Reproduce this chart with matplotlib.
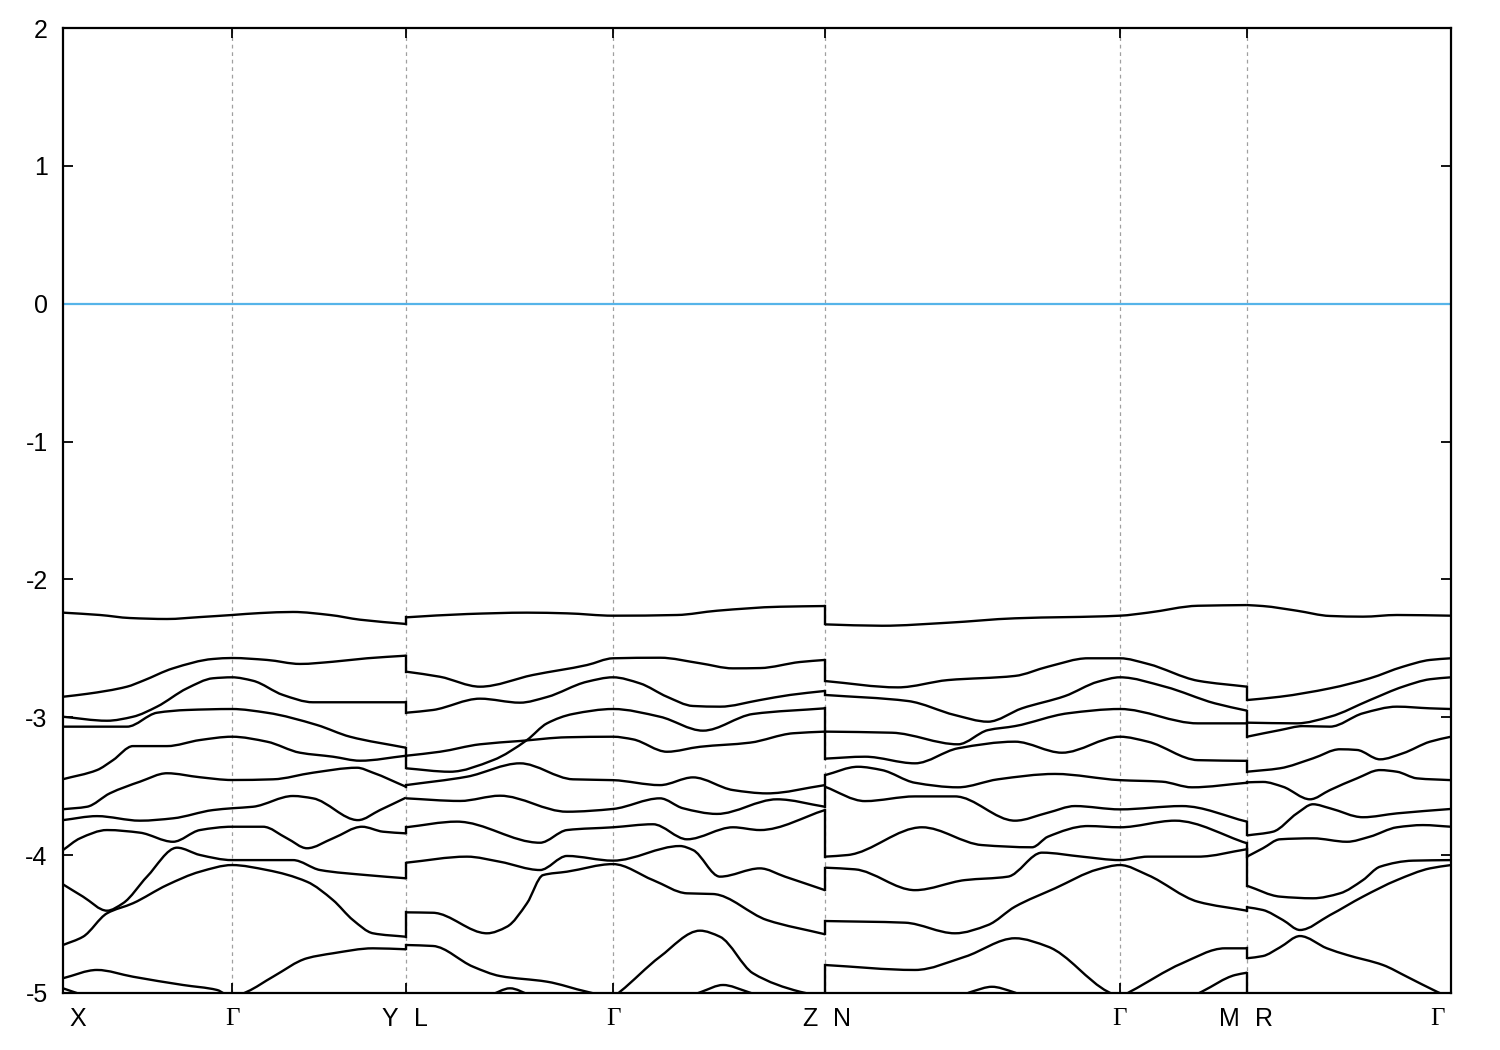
import numpy as np
import matplotlib
matplotlib.use("Agg")
import matplotlib.pyplot as plt
from matplotlib.transforms import offset_copy
from matplotlib.path import Path
from matplotlib.patches import PathPatch

# ---------------- data ----------------
# high-symmetry points along the k-path (path distance, arbitrary units)
kpoints = [0.0, 1.69, 3.43, 5.50, 7.62, 10.57, 11.84, 13.88]
klabels = ["X", "Γ", "Y|L", "Γ", "Z|N", "Γ", "M|R", "Γ"]
fermi_level = 0.0
yticks = [-5, -4, -3, -2, -1, 0, 1, 2]

# segment X -> Γ -> Y : bands as (k, E[eV])
seg1_bands = [
    ([0, 0.37, 0.67, 1.04, 1.37, 1.69, 1.97, 2.30, 2.67, 2.97, 3.43],
     [-2.241, -2.258, -2.280, -2.287, -2.273, -2.258, -2.244, -2.236, -2.258, -2.292, -2.323]),
    ([0, 0.24, 0.64, 0.80, 1.10, 1.50, 1.69, 2.04, 2.37, 2.70, 3.04, 3.43],
     [-2.851, -2.830, -2.778, -2.735, -2.645, -2.577, -2.570, -2.584, -2.613, -2.597, -2.572, -2.553]),
    ([0, 0.44, 0.70, 0.94, 1.24, 1.50, 1.69, 1.90, 2.20, 2.50, 3.43],
     [-2.996, -3.025, -2.996, -2.923, -2.790, -2.717, -2.710, -2.735, -2.838, -2.891, -2.891]),
    ([0, 0.64, 0.94, 1.24, 1.69, 2.04, 2.54, 2.87, 3.43],
     [-3.068, -3.068, -2.967, -2.947, -2.940, -2.967, -3.056, -3.141, -3.221]),
    ([0, 0.34, 0.50, 0.70, 1.04, 1.37, 1.69, 2.04, 2.37, 2.70, 2.97, 3.43],
     [-3.449, -3.383, -3.311, -3.209, -3.209, -3.165, -3.141, -3.177, -3.257, -3.286, -3.315, -3.279]),
    ([0, 0.24, 0.47, 0.77, 1.04, 1.37, 1.69, 2.10, 2.50, 2.94, 3.10, 3.43],
     [-3.667, -3.649, -3.551, -3.467, -3.406, -3.435, -3.455, -3.450, -3.402, -3.366, -3.402, -3.504]),
    ([0, 0.34, 0.77, 1.10, 1.50, 1.69, 1.90, 2.30, 2.50, 2.95, 3.17, 3.43],
     [-3.746, -3.717, -3.750, -3.733, -3.673, -3.660, -3.649, -3.571, -3.588, -3.746, -3.673, -3.583]),
    ([0, 0.17, 0.44, 0.77, 1.10, 1.37, 1.69, 2.00, 2.24, 2.44, 2.70, 2.99, 3.20, 3.43],
     [-3.963, -3.878, -3.818, -3.837, -3.903, -3.818, -3.794, -3.794, -3.878, -3.950, -3.878, -3.794, -3.830, -3.842]),
    ([0, 0.20, 0.44, 0.60, 0.84, 1.14, 1.37, 1.69, 2.30, 2.57, 3.04, 3.43],
     [-4.212, -4.301, -4.403, -4.349, -4.156, -3.946, -3.999, -4.036, -4.036, -4.108, -4.145, -4.168]),
    ([0, 0.20, 0.44, 0.70, 1.04, 1.37, 1.69, 2.04, 2.44, 2.70, 2.90, 3.10, 3.43],
     [-4.652, -4.592, -4.422, -4.349, -4.217, -4.120, -4.072, -4.108, -4.193, -4.326, -4.471, -4.567, -4.592]),
    ([0, 0.34, 0.70, 1.20, 1.54, 1.69, 1.84, 2.10, 2.44, 2.70, 3.10, 3.43],
     [-4.893, -4.833, -4.882, -4.942, -4.978, -5.030, -4.991, -4.882, -4.748, -4.712, -4.676, -4.683]),
    ([0, 0.20, 0.60, 1.69, 3.43],
     [-4.966, -5.015, -5.10, -5.25, -5.20]),
]

# segment L -> Γ -> Z
seg2_bands = [
    ([3.43, 4.04, 4.64, 5.04, 5.50, 6.14, 6.54, 7.17, 7.62],
     [-2.275, -2.251, -2.241, -2.246, -2.263, -2.258, -2.227, -2.198, -2.193]),
    ([3.43, 3.77, 4.17, 4.70, 5.24, 5.50, 5.97, 6.37, 6.70, 6.97, 7.37, 7.62],
     [-2.669, -2.706, -2.778, -2.693, -2.621, -2.572, -2.568, -2.608, -2.645, -2.643, -2.599, -2.584]),
    ([3.43, 3.70, 4.17, 4.57, 4.84, 5.24, 5.50, 5.77, 6.04, 6.30, 6.57, 6.97, 7.27, 7.62],
     [-2.967, -2.947, -2.865, -2.894, -2.853, -2.742, -2.710, -2.754, -2.851, -2.918, -2.923, -2.875, -2.838, -2.809]),
    ([3.43, 3.77, 4.17, 4.57, 5.04, 5.50, 5.70, 6.04, 6.37, 6.87, 7.30, 7.62],
     [-3.279, -3.250, -3.196, -3.172, -3.145, -3.141, -3.160, -3.250, -3.214, -3.184, -3.116, -3.104]),
    ([3.43, 3.87, 4.30, 4.64, 4.84, 5.10, 5.50, 5.97, 6.40, 6.90, 7.62],
     [-3.370, -3.395, -3.311, -3.165, -3.044, -2.976, -2.940, -2.996, -3.097, -2.976, -2.935]),
    ([3.43, 4.04, 4.57, 5.10, 5.50, 5.97, 6.30, 6.70, 7.04, 7.62],
     [-3.492, -3.431, -3.334, -3.450, -3.456, -3.492, -3.436, -3.528, -3.552, -3.492]),
    ([3.43, 3.97, 4.37, 5.04, 5.50, 5.97, 6.20, 6.54, 7.14, 7.62],
     [-3.588, -3.607, -3.569, -3.685, -3.665, -3.588, -3.660, -3.701, -3.595, -3.649]),
    ([3.43, 3.94, 4.77, 5.04, 5.50, 5.90, 6.24, 6.70, 6.97, 7.62],
     [-3.798, -3.757, -3.910, -3.818, -3.798, -3.776, -3.885, -3.798, -3.818, -3.673]),
    ([3.43, 4.04, 4.37, 4.77, 5.04, 5.50, 6.17, 6.30, 6.57, 6.97, 7.22, 7.62],
     [-4.055, -4.011, -4.048, -4.108, -4.006, -4.040, -3.934, -3.963, -4.156, -4.096, -4.156, -4.254]),
    ([3.43, 3.70, 4.24, 4.44, 4.64, 4.80, 5.04, 5.50, 5.90, 6.24, 6.50, 7.04, 7.62],
     [-4.415, -4.418, -4.567, -4.519, -4.349, -4.145, -4.120, -4.065, -4.181, -4.277, -4.282, -4.471, -4.574]),
    ([3.43, 3.70, 4.10, 4.37, 4.84, 5.24, 5.50, 5.57, 5.97, 6.37, 6.57, 6.90, 7.37, 7.62],
     [-4.652, -4.659, -4.809, -4.877, -4.918, -4.991, -5.029, -4.991, -4.737, -4.548, -4.592, -4.857, -4.991, -5.029]),
    ([3.43, 4.27, 4.47, 4.67, 5.50, 6.17, 6.39, 6.60, 6.84, 7.07, 7.62],
     [-5.12, -5.015, -4.966, -5.015, -5.20, -5.05, -4.99, -4.942, -4.99, -5.05, -5.12]),
]

# segment N -> Γ -> M
seg3_bands = [
    ([7.62, 8.19, 8.85, 9.52, 10.57, 10.85, 11.35, 11.84],
     [-2.326, -2.336, -2.314, -2.282, -2.263, -2.241, -2.191, -2.186]),
    ([7.62, 8.35, 8.85, 9.52, 9.85, 10.25, 10.57, 10.85, 11.35, 11.84],
     [-2.737, -2.783, -2.730, -2.700, -2.633, -2.572, -2.572, -2.613, -2.735, -2.778]),
    ([7.62, 8.45, 8.92, 9.25, 9.59, 10.02, 10.35, 10.57, 11.02, 11.52, 11.84],
     [-2.838, -2.882, -2.984, -3.032, -2.935, -2.846, -2.742, -2.710, -2.778, -2.899, -2.952]),
    ([7.62, 8.29, 8.95, 9.25, 9.52, 10.05, 10.57, 11.35, 11.84],
     [-3.104, -3.112, -3.196, -3.093, -3.064, -2.971, -2.940, -3.044, -3.044]),
    ([7.62, 8.02, 8.52, 8.95, 9.52, 9.99, 10.57, 10.85, 11.35, 11.84],
     [-3.300, -3.286, -3.334, -3.225, -3.177, -3.257, -3.141, -3.177, -3.311, -3.316]),
    ([7.62, 7.95, 8.19, 8.52, 8.95, 9.35, 9.92, 10.57, 10.99, 11.29, 11.84],
     [-3.420, -3.359, -3.383, -3.475, -3.508, -3.450, -3.411, -3.456, -3.467, -3.508, -3.475]),
    ([7.62, 8.02, 8.52, 8.92, 9.52, 9.85, 10.12, 10.57, 11.19, 11.84],
     [-3.504, -3.608, -3.574, -3.574, -3.750, -3.692, -3.644, -3.668, -3.644, -3.757]),
    ([7.62, 7.85, 8.59, 9.19, 9.69, 9.85, 10.25, 10.57, 11.12, 11.84],
     [-4.011, -3.999, -3.798, -3.927, -3.943, -3.866, -3.789, -3.798, -3.750, -3.914]),
    ([7.62, 7.92, 8.52, 9.02, 9.45, 9.79, 10.19, 10.57, 10.85, 11.35, 11.84],
     [-4.091, -4.103, -4.254, -4.181, -4.156, -3.982, -4.011, -4.036, -4.011, -4.011, -3.957]),
    ([7.62, 8.42, 8.92, 9.25, 9.52, 9.92, 10.35, 10.57, 10.85, 11.35, 11.84],
     [-4.478, -4.490, -4.567, -4.507, -4.374, -4.241, -4.103, -4.072, -4.145, -4.338, -4.403]),
    ([7.62, 8.52, 9.02, 9.52, 9.85, 10.45, 10.57, 10.67, 11.19, 11.62, 11.84],
     [-4.797, -4.833, -4.737, -4.603, -4.664, -4.991, -5.027, -4.991, -4.785, -4.676, -4.676]),
    ([7.62, 8.87, 9.09, 9.29, 9.49, 9.77, 10.57, 11.22, 11.39, 11.72, 11.84],
     [-5.12, -5.05, -4.99, -4.955, -4.99, -5.08, -5.25, -5.05, -4.99, -4.87, -4.853]),
]

# segment R -> Γ
seg4_bands = [
    ([11.84, 12.00, 12.34, 12.67, 13.00, 13.34, 13.88],
     [-2.186, -2.193, -2.227, -2.265, -2.270, -2.258, -2.263]),
    ([11.84, 12.17, 12.67, 13.07, 13.40, 13.67, 13.88],
     [-2.875, -2.851, -2.790, -2.717, -2.633, -2.584, -2.572]),
    ([11.84, 12.34, 12.67, 13.07, 13.40, 13.67, 13.88],
     [-3.039, -3.044, -2.996, -2.875, -2.778, -2.724, -2.710]),
    ([11.84, 12.17, 12.40, 12.67, 13.00, 13.34, 13.67, 13.88],
     [-3.141, -3.093, -3.064, -3.068, -2.971, -2.923, -2.935, -2.940]),
    ([11.84, 12.17, 12.50, 12.77, 12.94, 13.17, 13.40, 13.67, 13.88],
     [-3.395, -3.370, -3.298, -3.232, -3.237, -3.305, -3.261, -3.177, -3.141]),
    ([11.84, 12.00, 12.20, 12.47, 12.67, 12.94, 13.17, 13.34, 13.54, 13.88],
     [-3.472, -3.469, -3.504, -3.595, -3.528, -3.443, -3.383, -3.395, -3.443, -3.456]),
    ([11.84, 12.10, 12.34, 12.50, 12.67, 13.00, 13.34, 13.88],
     [-3.857, -3.830, -3.697, -3.631, -3.660, -3.725, -3.697, -3.665]),
    ([11.84, 12.00, 12.17, 12.50, 12.84, 13.07, 13.34, 13.60, 13.88],
     [-4.011, -3.950, -3.885, -3.878, -3.903, -3.866, -3.798, -3.782, -3.794]),
    ([11.84, 12.17, 12.50, 12.77, 13.00, 13.17, 13.50, 13.88],
     [-4.222, -4.301, -4.313, -4.277, -4.181, -4.084, -4.040, -4.036]),
    ([11.84, 12.00, 12.20, 12.37, 12.67, 13.00, 13.34, 13.67, 13.88],
     [-4.378, -4.398, -4.471, -4.543, -4.435, -4.301, -4.181, -4.096, -4.072]),
    ([11.84, 12.00, 12.17, 12.37, 12.64, 12.84, 13.20, 13.44, 13.74, 13.88],
     [-4.748, -4.732, -4.669, -4.587, -4.676, -4.724, -4.797, -4.882, -4.991, -5.037]),
    ([11.84, 13.88],
     [-5.12, -5.30]),
]

segments = [seg1_bands, seg2_bands, seg3_bands, seg4_bands]


def smooth_path(k, e):
    """Bezier path passing through the given points (monotone cubic Hermite tangents)."""
    x = np.asarray(k, float)
    y = np.asarray(e, float)
    n = len(x)
    if n < 3:
        return Path(np.column_stack([x, y]))
    h = np.diff(x)
    d = np.diff(y) / h
    m = np.zeros(n)
    m[0], m[-1] = d[0], d[-1]
    for i in range(1, n - 1):
        if d[i - 1] * d[i] <= 0:
            m[i] = 0.0
        else:
            w1 = 2 * h[i] + h[i - 1]
            w2 = h[i] + 2 * h[i - 1]
            m[i] = (w1 + w2) / (w1 / d[i - 1] + w2 / d[i])
    verts = [(x[0], y[0])]
    codes = [Path.MOVETO]
    for i in range(n - 1):
        verts += [(x[i] + h[i] / 3, y[i] + m[i] * h[i] / 3),
                  (x[i + 1] - h[i] / 3, y[i + 1] - m[i + 1] * h[i] / 3),
                  (x[i + 1], y[i + 1])]
        codes += [Path.CURVE4] * 3
    return Path(verts, codes)


# ---------------- plot ----------------
plt.rcParams['font.family'] = ['Liberation Sans', 'DejaVu Sans']

fig = plt.figure(figsize=(15, 10.5), dpi=100)
ax = fig.add_axes([0.042, 0.0543, 0.9253, 0.919])

LW = 1.7
for seg in segments:
    for k, e in seg:
        ax.add_patch(PathPatch(smooth_path(k, e), fill=False, edgecolor='black',
                               lw=LW, joinstyle='round', zorder=3))

# vertical connectors at path discontinuities (band index order)
for i in range(len(segments) - 1):
    ends = np.sort([e[-1] for _, e in segments[i]])
    starts = np.sort([e[0] for _, e in segments[i + 1]])
    kb = segments[i][0][0][-1]
    for a, b in zip(ends, starts):
        ax.plot([kb, kb], [a, b], color='black', lw=LW, zorder=3)

# high-symmetry guide lines
for kp in kpoints[1:-1]:
    ax.axvline(kp, color='#a0a0a0', lw=0.9, ls=(0, (3, 3)), zorder=1)

# Fermi level
ax.axhline(fermi_level, color='#56b4e9', lw=1.6, zorder=2)

ax.set_xlim(kpoints[0], kpoints[-1])
ax.set_ylim(-5, 2)

ax.set_yticks(yticks)
ax.set_yticklabels([str(t) for t in yticks])
ax.set_xticks(kpoints[1:-1])
ax.set_xticklabels([])
ax.tick_params(axis='both', direction='in', length=7, width=1.3,
               top=True, right=True, labelsize=18)
ax.tick_params(axis='y', pad=11)
for s in ax.spines.values():
    s.set_linewidth(1.6)

# k-point labels below the axis
trans = ax.get_xaxis_transform()
lab_y = -0.027
for kp, lab in zip(kpoints, klabels):
    parts = lab.split("|")
    if len(parts) == 2:
        left, right = parts
        items = [(left, 'right', -5.5), (right, 'left', 5.5)]
    elif kp == kpoints[0]:
        items = [(lab, 'left', 4.5)]
    elif kp == kpoints[-1]:
        items = [(lab, 'right', -4.5)]
    else:
        items = [(lab, 'center', 0)]
    for txt, ha, dx in items:
        tr = offset_copy(trans, fig=fig, x=dx, y=0, units='points')
        fam = ['Liberation Serif', 'DejaVu Serif'] if txt == "Γ" else ['Liberation Sans', 'DejaVu Sans']
        ax.text(kp, lab_y, txt, transform=tr, ha=ha, va='center',
                fontsize=18, family=fam)

fig.savefig("out.png", dpi=100)
